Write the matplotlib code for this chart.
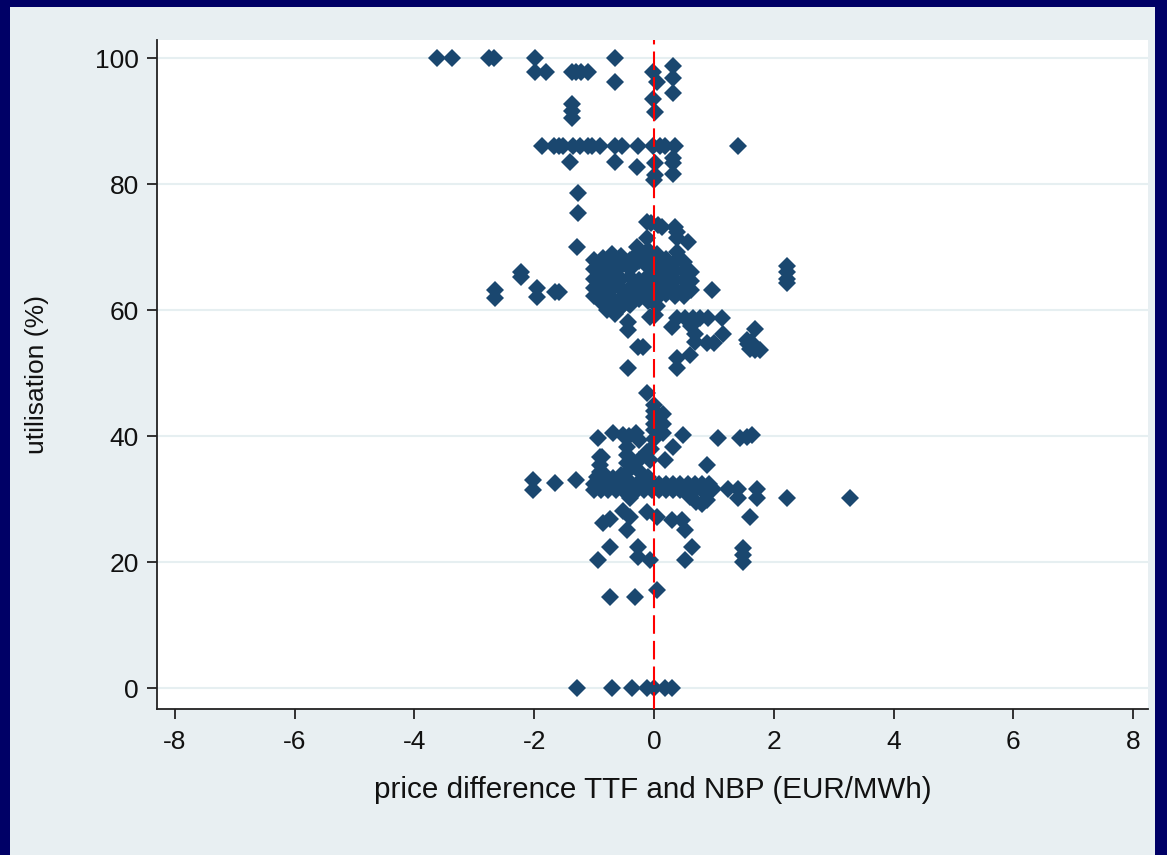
import matplotlib
matplotlib.use("Agg")
import matplotlib.pyplot as plt
from matplotlib.patches import Rectangle

plt.rcParams['font.family'] = ['Liberation Sans', 'DejaVu Sans']

# ---------------- data (price difference TTF-NBP, utilisation %) ----------------
# top region (utilisation >= 90)
diff_top = [-3.62, -3.38, -2.76, -2.68, -1.99, -1.98, -1.81, -1.37, -1.30, -1.22, -1.10,
            -0.65, -0.65, -0.02, 0.05, -0.02, 0.02, 0.32, 0.32, 0.32, -1.37, -1.37, -1.37]
util_top = [100, 100, 100, 100, 100, 97.8, 97.8, 97.8, 97.8, 97.8, 97.8,
            100, 96.3, 97.8, 96.2, 93.6, 91.4, 98.7, 96.8, 94.5, 92.7, 91.7, 90.5]

# row at ~86 and points down to 70
diff_86 = [-1.87, -1.67, -1.58, -1.52, -1.35, -1.24, -1.10, -1.03, -0.90, -0.65, -0.53,
           -0.27, -0.02, 0.10, 0.18, 0.35, 1.40,
           -1.40, -0.65, -0.28, 0.02, 0.02, 0.0, 0.32, 0.32, 0.32,
           -1.27, -1.27, -1.29]
util_86 = [86, 86, 86, 86, 86, 86, 86, 86, 86, 86, 86,
           86, 86, 86, 86, 86, 86,
           83.5, 83.5, 82.7, 83.3, 81.4, 80.6, 84.1, 83.3, 81.7,
           78.6, 75.4, 70.0]

# cluster around 60-74
diff_60 = [-0.12, -0.05, 0.07, 0.13, 0.35, 0.38, 0.38, 0.57, 0.38, 0.38, -0.12, -0.28,
           -2.22, -2.22, -2.65, -2.65, -1.95, -1.95, -1.65, -1.58, 0.97,
           2.22, 2.22, 2.22, 2.22,
           -1.00, -1.00, -1.00, -1.00, -1.00,
           -0.85, -0.85, -0.85, -0.85, -0.85, -0.85,
           -0.70, -0.70, -0.70, -0.70, -0.70, -0.70, -0.70,
           -0.55, -0.55, -0.55, -0.55, -0.55, -0.55,
           -0.40, -0.40, -0.40, -0.40, -0.40, -0.40,
           -0.25, -0.25, -0.25, -0.25, -0.25,
           -0.10, -0.10, -0.10, -0.10, -0.10, -0.10, -0.10,
           0.05, 0.05, 0.05, 0.05, 0.05, 0.05, 0.05,
           0.20, 0.20, 0.20, 0.20, 0.20,
           0.35, 0.35, 0.35, 0.35, 0.35,
           0.50, 0.50, 0.50, 0.50, 0.50,
           0.62, 0.62, 0.62,
           -0.78, -0.65, -0.55, -0.43, -0.43, 0.02, -0.07, -0.68]
util_60 = [74.0, 73.8, 73.5, 73.2, 73.2, 72.4, 71.5, 70.8, 69.2, 68.0, 71.4, 70.0,
           66.0, 65.2, 63.2, 61.9, 63.5, 62.1, 62.9, 62.9, 63.2,
           67.0, 66.0, 65.0, 64.3,
           68.0, 66.5, 65.0, 63.5, 62.2,
           68.3, 66.8, 65.3, 63.8, 62.3, 61.0,
           69.0, 67.6, 66.2, 64.8, 63.4, 62.0, 60.7,
           68.6, 67.1, 65.0, 63.5, 62.0, 60.5,
           68.0, 66.6, 65.2, 63.6, 62.2, 60.8,
           69.2, 67.8, 64.8, 63.2, 61.8,
           69.6, 68.2, 66.8, 65.4, 64.0, 62.6, 61.4,
           69.0, 67.6, 66.2, 64.8, 63.4, 62.0, 60.6,
           68.2, 66.8, 65.4, 64.0, 62.6,
           67.6, 66.2, 64.8, 63.4, 62.2,
           67.6, 66.2, 64.8, 63.4, 62.2,
           66.0, 64.6, 63.2,
           60.0, 59.4, 60.5, 58.2, 56.8, 59.2, 58.9, 61.2]

# cluster around 50-59 (right of zero)
diff_55 = [0.38, 0.52, 0.65, 0.77, 0.90, 1.13, 0.30, 0.62, 0.68, 0.68, 0.88, 1.00, 1.15,
           -0.27, -0.18, 0.38, 0.38, 0.60, -0.43,
           1.69, 1.55, 1.57, 1.60, 1.68, 1.77, 1.62]
util_55 = [58.7, 58.7, 58.7, 58.7, 58.7, 58.7, 57.3, 57.5, 56.3, 55.0, 54.8, 54.8, 56.3,
           54.1, 54.1, 52.4, 50.8, 52.9, 50.8,
           57.1, 55.2, 54.6, 53.9, 53.7, 53.7, 55.0]

# 38-47 region
diff_40 = [-0.12, 0.0, 0.0, 0.0, 0.0, 0.0, 0.0, 0.15, 0.15, 0.15,
           -0.93, -0.68, -0.52, -0.42, -0.30, -0.25, 0.48, 1.07, 1.44, 1.55, 1.63,
           0.32, 0.18, 0.88, -0.07]
util_40 = [46.8, 45.0, 44.0, 43.0, 42.0, 41.0, 39.6, 43.5, 42.0, 40.5,
           39.7, 40.5, 40.2, 40.0, 40.5, 39.4, 40.2, 39.7, 39.7, 39.9, 40.2,
           38.3, 36.2, 35.4, 36.2]

# dense band near 32 and blob above it
diff_32 = [-1.00, -0.88, -0.76, -0.64, -0.52, -0.40, -0.28, -0.16, -0.04, 0.08, 0.20,
           0.32, 0.44, 0.56, 0.68, 0.80, 0.92,
           -1.00, -0.88, -0.76, -0.64, -0.52, -0.40, -0.28, -0.16, -0.04, 0.08, 0.20,
           0.32, 0.44, 0.56, 0.68, 0.80, 0.95,
           -0.95, -0.82, -0.68, -0.58,
           -0.90, -0.90, -0.90, -0.90,
           -0.45, -0.45, -0.45, -0.45, -0.45,
           -0.35, -0.25, -0.12, -0.05, -0.20, -0.10,
           -0.87, -0.55,
           -2.02, -2.02, -1.65, -1.30,
           0.98, 1.23, 1.40, 1.40, 1.72, 1.72, 2.22, 3.27,
           0.60, 0.70, 0.80, 0.88, -0.40]
util_32 = [32.4, 32.4, 32.4, 32.4, 32.4, 32.4, 32.4, 32.4, 32.4, 32.4, 32.4,
           32.4, 32.4, 32.4, 32.4, 32.4, 32.4,
           31.4, 31.4, 31.4, 31.4, 31.4, 31.4, 31.4, 31.4, 31.4, 31.4, 31.4,
           31.4, 31.4, 31.4, 31.4, 31.4, 31.7,
           33.6, 33.8, 33.4, 33.2,
           36.7, 35.5, 34.3, 33.2,
           38.3, 37.0, 35.7, 34.4, 33.2,
           35.2, 36.2, 37.5, 37.9, 34.0, 33.5,
           36.7, 33.8,
           33.0, 31.4, 32.5, 33.0,
           31.7, 31.7, 31.7, 30.2, 31.7, 30.2, 30.2, 30.2,
           30.3, 29.6, 29.2, 29.8, 30.2]

# lower region 14-28
diff_low = [1.60, -0.73, -0.85, -0.52, -0.40, -0.45, -0.12, 0.05, 0.30, 0.47, 0.52,
            -0.73, -0.93, -0.27, -0.27, -0.07, 0.63, 0.52, 1.49, 1.49, 1.49,
            -0.73, -0.32, 0.05]
util_low = [27.1, 26.8, 26.3, 28.2, 27.1, 25.1, 28.0, 27.2, 26.7, 26.7, 25.1,
            22.4, 20.3, 22.4, 20.8, 20.3, 22.4, 20.3, 22.2, 21.2, 20.1,
            14.4, 14.4, 15.6]

# zero utilisation
diff_zero = [-1.29, -0.70, -0.37, -0.12, 0.0, 0.18, 0.30]
util_zero = [0, 0, 0, 0, 0, 0, 0]

x_ticks = [-8, -6, -4, -2, 0, 2, 4, 6, 8]
y_ticks = [0, 20, 40, 60, 80, 100]
x_label = "price difference TTF and NBP (EUR/MWh)"
y_label = "utilisation (%)"

# ---------------- figure ----------------
W, H = 1167, 855
fig = plt.figure(figsize=(W / 100, H / 100), dpi=100)
fig.patch.set_facecolor('#000066')
bg = Rectangle((10 / W, 0), (1155 - 10) / W, 848 / H,
               transform=fig.transFigure, facecolor='#e8eff2',
               edgecolor='none', zorder=-10)
fig.patches.append(bg)

ax = fig.add_axes([157 / W, (H - 709) / H, (1148 - 157) / W, (709 - 40) / H])
ax.set_zorder(1)
ax.set_facecolor('white')

mcol = '#1a476f'
groups = [(diff_top, util_top), (diff_86, util_86), (diff_60, util_60),
          (diff_55, util_55), (diff_40, util_40), (diff_32, util_32),
          (diff_low, util_low), (diff_zero, util_zero)]
for gx, gy in groups:
    ax.plot(gx, gy, linestyle='none', marker='D', markersize=8.8,
            color=mcol, markeredgewidth=0, zorder=3)

ax.axvline(0, color='#ff0000', lw=1.5, linestyle=(0.8, (8.9, 3.4)), zorder=4)

ax.set_xlim(-8.3, 8.25)
ax.set_ylim(-3.3, 102.9)
ax.set_xticks(x_ticks)
ax.set_yticks(y_ticks)
ax.set_xticklabels([str(v) for v in x_ticks])
ax.set_yticklabels([str(v) for v in y_ticks])

ax.grid(axis='y', color='#e6eff1', lw=1.5, zorder=0)
ax.set_axisbelow(True)

for s in ['top', 'right']:
    ax.spines[s].set_visible(False)
for s in ['left', 'bottom']:
    ax.spines[s].set_color('#222222')
    ax.spines[s].set_linewidth(1.3)

ax.tick_params(axis='both', direction='out', length=7, width=1.3,
               color='#222222', labelsize=19, labelcolor='#111111')
ax.tick_params(axis='y', pad=6)
ax.tick_params(axis='x', pad=8)

ax.set_xlabel(x_label, fontsize=21.3, color='#111111', labelpad=16)
ax.set_ylabel(y_label, fontsize=19, color='#111111', labelpad=33)

fig.savefig('out.png', dpi=100, facecolor=fig.get_facecolor())
